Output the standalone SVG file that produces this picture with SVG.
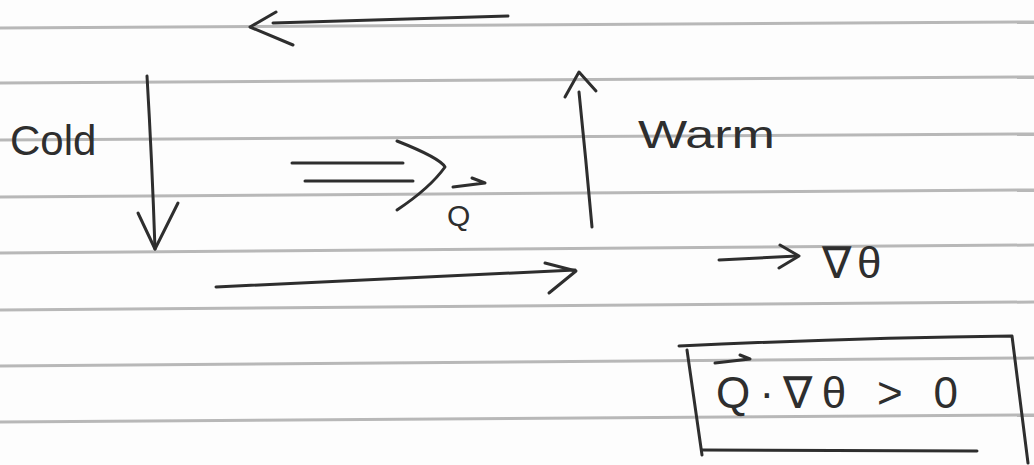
<svg xmlns="http://www.w3.org/2000/svg" width="1034" height="465" viewBox="0 0 1034 465">
<style>
.rule{stroke:#b8b8b8;stroke-width:3;fill:none}
.ink{stroke:#2e2e2e;stroke-width:3;fill:none;stroke-linecap:round;stroke-linejoin:round}
.txt{font-family:"Liberation Sans",sans-serif;fill:#2e2e2e}
</style>
<rect width="1034" height="465" fill="#fdfdfd"/>
<g id="paper">
<line class="rule" x1="0" y1="28" x2="1034" y2="22"/>
<line class="rule" x1="0" y1="83" x2="1034" y2="77"/>
<line class="rule" x1="0" y1="140" x2="1034" y2="134"/>
<line class="rule" x1="0" y1="197" x2="1034" y2="190"/>
<line class="rule" x1="0" y1="253" x2="1034" y2="245"/>
<line class="rule" x1="0" y1="310" x2="1034" y2="302"/>
<line class="rule" x1="0" y1="366" x2="1034" y2="358"/>
<line class="rule" x1="0" y1="422" x2="1034" y2="415"/>
</g>
<g id="connectors">
<path class="ink" d="M508 16 L273 23"/>
<path class="ink" d="M276 12 L250 27 L293 45"/>
<path class="ink" d="M147 76 Q152 160 155 249"/>
<path class="ink" d="M138 213 L155 249 L178 203"/>
<path class="ink" d="M592 227 Q586 160 579 92"/>
<path class="ink" d="M565 97 L579 72 L596 91"/>
<path class="ink" d="M216 287 Q400 278 575 270"/>
<path class="ink" d="M545 263 L576 271 L549 293"/>
<path class="ink" d="M292 163 L403 163"/>
<path class="ink" d="M305 181 L413 181"/>
<path class="ink" d="M397 141 Q440 158 445 167 Q430 188 397 210"/>
<path class="ink" d="M719 260 L797 256"/>
<path class="ink" d="M780 245 L799 256 L779 268"/>
</g>
<g id="cold"><text class="txt" x="10" y="155" font-size="42">Cold</text></g>
<g id="warm"><text class="txt" x="638" y="148" font-size="38" textLength="137" lengthAdjust="spacingAndGlyphs">Warm</text></g>
<g id="q-label">
<path class="ink" d="M453 187 L485 183 M472 178 L485 183"/>
<text class="txt" x="447" y="226" font-size="30">Q</text>
</g>
<g id="grad-label"><text class="txt" x="822" y="278" font-size="44" letter-spacing="6">∇θ</text></g>
<g id="formula">
<path class="ink" d="M679 346 Q850 338 1012 336 L1028 463"/>
<path class="ink" d="M687 350 L702 455"/>
<path class="ink" d="M702 450 L977 451"/>
<path class="ink" d="M715 363 L750 359 M740 355 L750 359"/>
<text class="txt" x="716" y="408" font-size="44" textLength="242" lengthAdjust="spacing">Q·∇θ &gt; 0</text>
</g>
</svg>
